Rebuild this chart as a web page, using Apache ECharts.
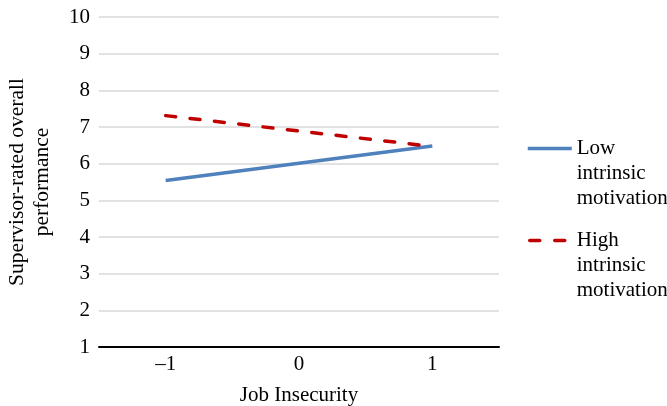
<!DOCTYPE html>
<html>
<head>
<meta charset="utf-8">
<script src="https://cdn.jsdelivr.net/npm/echarts@6/dist/echarts.min.js"></script>
<style>
html,body{margin:0;padding:0;background:#fff;}
#chart{width:667px;height:406px;}
</style>
</head>
<body>
<div id="chart"></div>
<script>
const categories = ['\u20131', '0', '1'];
const lowMotivation = [5.54, 6.01, 6.48];
const highMotivation = [7.31, 6.89, 6.47];
const seriesNames = ['Low intrinsic motivation', 'High intrinsic motivation'];
const yTicks = { min: 1, max: 10, interval: 1 };

const FONT = '"Liberation Serif", "Times New Roman", serif';
const FS = 21;
const LW = 3.5;
const chart = echarts.init(document.getElementById('chart'), null, { renderer: 'canvas' });

function legendFor(name, left, top, itemWidth, lineStyle) {
  return {
    data: [name],
    orient: 'vertical',
    left: left,
    top: top,
    itemWidth: itemWidth,
    itemHeight: 15,
    itemGap: 0,
    padding: 0,
    itemStyle: { opacity: 0 },
    lineStyle: lineStyle,
    formatter: n => ' \n \n' + n.replace(/ /g, '\n'),
    textStyle: {
      fontFamily: FONT, fontSize: FS, color: '#000', lineHeight: 25
    }
  };
}

chart.setOption({
  animation: false,
  backgroundColor: '#fff',
  grid: { left: 99, right: 168, top: 17, bottom: 59, containLabel: false, outerBoundsMode: 'none' },
  legend: [
    legendFor(seriesNames[0], 526, 86, 44, { width: LW, type: 'solid' }),
    legendFor(seriesNames[1], 528, 178, 42, { width: LW, type: [10, 15], cap: 'round' })
  ],
  xAxis: {
    type: 'category',
    data: categories,
    boundaryGap: true,
    name: 'Job Insecurity',
    nameLocation: 'middle',
    nameGap: 38,
    nameTextStyle: { fontFamily: FONT, fontSize: FS, color: '#000' },
    axisLine: { lineStyle: { color: '#000', width: 2 } },
    axisTick: { show: false },
    axisLabel: { fontFamily: FONT, fontSize: FS, color: '#000', margin: 7 }
  },
  yAxis: {
    type: 'value',
    min: yTicks.min,
    max: yTicks.max,
    interval: yTicks.interval,
    name: 'Supervisor-rated overall\nperformance',
    nameLocation: 'middle',
    nameGap: 44,
    nameTextStyle: { fontFamily: FONT, fontSize: 21.5, color: '#000', lineHeight: 25 },
    axisLine: { show: false },
    axisTick: { show: false },
    axisLabel: { fontFamily: FONT, fontSize: FS, color: '#000', margin: 9 },
    splitLine: { lineStyle: { color: '#d9d9d9', width: 1.5 } }
  },
  series: [
    {
      name: seriesNames[0],
      type: 'line',
      data: lowMotivation,
      symbol: 'none',
      lineStyle: { color: '#4f81bd', width: LW },
      itemStyle: { color: '#4f81bd' }
    },
    {
      name: seriesNames[1],
      type: 'line',
      data: highMotivation,
      symbol: 'none',
      lineStyle: { color: '#c00000', width: LW, type: [10, 14.5], cap: 'round' },
      itemStyle: { color: '#c00000' }
    }
  ]
});
</script>
</body>
</html>
